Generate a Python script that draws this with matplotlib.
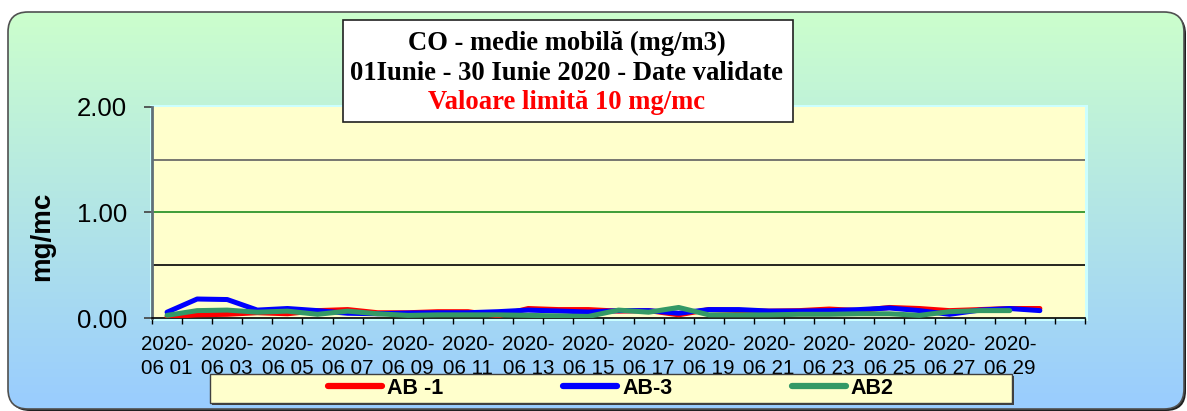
import numpy as np
import matplotlib
matplotlib.use("Agg")
import matplotlib.pyplot as plt
from matplotlib.patches import FancyBboxPatch, Rectangle
from matplotlib.lines import Line2D

plt.rcParams["font.family"] = ["Liberation Sans", "DejaVu Sans"]

# ---------------- data ----------------
days = ["01", "02", "03", "04", "05", "06", "07", "08", "09", "10",
        "11", "12", "13", "14", "15", "16", "17", "18", "19", "20",
        "21", "22", "23", "24", "25", "26", "27", "28", "29", "30"]
year_label = "2020-"
month_label = "06"

ab1 = [0.01, 0.03, 0.035, 0.05, 0.04, 0.07, 0.08, 0.05, 0.05, 0.06,
       0.06, 0.02, 0.09, 0.08, 0.08, 0.065, 0.07, 0.03, 0.08, 0.07,
       0.065, 0.07, 0.085, 0.07, 0.10, 0.09, 0.07, 0.08, 0.09, 0.09]
ab3 = [0.055, 0.18, 0.175, 0.075, 0.09, 0.07, 0.045, 0.04, 0.047, 0.05,
       0.05, 0.06, 0.075, 0.066, 0.057, 0.07, 0.07, 0.045, 0.08, 0.08,
       0.066, 0.066, 0.07, 0.08, 0.095, 0.07, 0.035, 0.075, 0.09, 0.07]
ab2 = [0.025, 0.07, 0.075, 0.055, 0.065, 0.035, 0.065, 0.04, 0.025, 0.03,
       0.03, 0.03, 0.025, 0.02, 0.015, 0.075, 0.055, 0.10, 0.03, 0.03,
       0.03, 0.035, 0.035, 0.04, 0.04, 0.025, 0.06, 0.07, 0.07, np.nan]

series_names = ["AB -1", "AB-3", "AB2"]
series_colors = ["#FF0000", "#0000FF", "#339966"]

title_lines = ["CO - medie mobilă (mg/m3)",
               "01Iunie - 30 Iunie 2020 - Date validate",
               "Valoare limită 10 mg/mc"]
ylabel = "mg/mc"
ytick_vals = [0, 1, 2]
ytick_labels = ["0.00", "1.00", "2.00"]

# ---------------- figure ----------------
W, H = 1187, 411
fig = plt.figure(figsize=(W / 100, H / 100), dpi=100)
fig.patch.set_facecolor("white")

bg = fig.add_axes([0, 0, 1, 1], zorder=0)
bg.set_xlim(0, W)
bg.set_ylim(H, 0)
bg.axis("off")

# rounded gradient background
shadow = FancyBboxPatch((10, 14), 1176, 397, boxstyle="round,pad=0,rounding_size=20",
                        facecolor="#202020", edgecolor="none", zorder=0.5)
bg.add_patch(shadow)
clipbox = FancyBboxPatch((8, 12), 1176, 397, boxstyle="round,pad=0,rounding_size=20",
                         facecolor="none", edgecolor="none")
bg.add_patch(clipbox)
top = np.array([204, 255, 204]) / 255
bot = np.array([153, 204, 255]) / 255
t = np.linspace(0, 1, 256)[:, None]
grad = (top[None, :] * (1 - t) + bot[None, :] * t)[:, None, :]
im = bg.imshow(grad, extent=(8, 1184, 409, 12), aspect="auto", zorder=1, interpolation="bilinear")
im.set_clip_path(clipbox)
frame = FancyBboxPatch((8, 12), 1176, 397, boxstyle="round,pad=0,rounding_size=20",
                       facecolor="none", edgecolor="#505050", lw=1.2, zorder=2)
bg.add_patch(frame)

# plot area cyan border
bg.add_patch(Rectangle((150, 105), 938, 216, facecolor="#CCFFFF", edgecolor="none", zorder=3))

# y label
bg.text(42, 236, ylabel, rotation=90, ha="center", va="center",
        fontweight="bold", fontsize=20, zorder=5)

# ---------------- main axes ----------------
x0, x1, y0, y1 = 152, 1085, 107, 318
ax = fig.add_axes([x0 / W, 1 - y1 / H, (x1 - x0) / W, (y1 - y0) / H], zorder=2)
ax.set_facecolor("#FFFFCC")

x = np.arange(len(days))
for vals, name, col in zip([ab1, ab3, ab2], series_names, series_colors):
    ax.plot(x, vals, color=col, lw=3.6, solid_capstyle="round", solid_joinstyle="round",
            label=name, zorder=3)

ax.axhline(0.5, color="black", lw=1.2, zorder=1)
ax.axhline(1.0, color="#1E8C1E", lw=1.2, zorder=1)
ax.axhline(1.5, color="#606060", lw=1.2, zorder=1)

ax.set_xlim(-0.5, len(days) + 0.5)
ax.set_ylim(0, 2)

ax.set_xticks(np.arange(-0.5, len(days) + 1, 1))
ax.set_xticklabels([])
label_pos = x[::2]
ax.set_xticks(label_pos, minor=True)
ax.set_xticklabels([f"{year_label}\n{month_label} {days[i]}" for i in label_pos], minor=True,
                   linespacing=1.3)
ax.tick_params(axis="x", which="major", length=4.5, width=1.0, color="black", direction="out")
ax.tick_params(axis="x", which="minor", length=0, pad=12.5, labelsize=14.8)

ax.set_yticks(ytick_vals)
ax.set_yticklabels(ytick_labels)
ax.tick_params(axis="y", length=6, width=1.2, color="#404040", pad=12, direction="out",
               labelsize=18.5)

for s in ["top", "right"]:
    ax.spines[s].set_visible(False)
ax.spines["left"].set_color("#607078")
ax.spines["left"].set_linewidth(2)
ax.spines["bottom"].set_color("black")
ax.spines["bottom"].set_linewidth(1.2)

# ---------------- overlay: title box and legend box ----------------
ov = fig.add_axes([0, 0, 1, 1], zorder=5)
ov.set_xlim(0, W)
ov.set_ylim(H, 0)
ov.axis("off")
ov.patch.set_alpha(0)

ov.add_patch(Rectangle((343, 20), 450, 102, facecolor="white", edgecolor="#202020", lw=1.2, zorder=4))
for i, (txt, col) in enumerate(zip(title_lines, ["black", "black", "#FF0000"])):
    ov.text(567, 50 + i * 29.5, txt, ha="center", va="baseline", color=col,
            fontfamily="Liberation Serif", fontweight="bold", fontsize=19.2, zorder=5)

ov.add_patch(Rectangle((212, 376), 802, 29, facecolor="#404040", edgecolor="none", zorder=3))
ov.add_patch(Rectangle((210, 374), 802, 29, facecolor="#FFFFCC", edgecolor="#404040", lw=1.0, zorder=4))

handles = [Line2D([], [], color=c, lw=4.5, solid_capstyle="round") for c in series_colors]
leg = ov.legend(handles, series_names, loc="center", bbox_to_anchor=(611 / W, 1 - 388.5 / H),
                bbox_transform=fig.transFigure,
                ncol=3, frameon=False, handlelength=2.5, handletextpad=0.25, columnspacing=5.55,
                prop={"family": "Liberation Sans", "weight": "bold", "size": 15.5})
leg.set_zorder(6)

fig.savefig("out.png", dpi=100, facecolor="white")
